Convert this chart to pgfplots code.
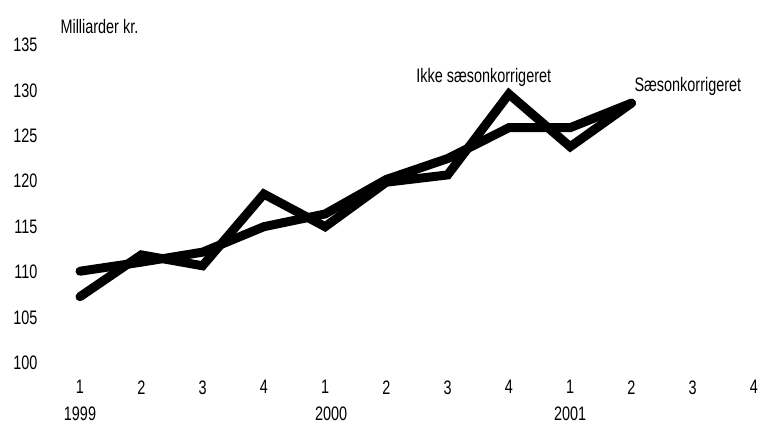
\documentclass[border=0pt]{standalone}
\usepackage{fontspec}
\setmainfont{Liberation Sans}[FakeStretch=0.74]
\usepackage{pgfplots}
\pgfplotsset{compat=1.18}
\begin{document}
\begin{tikzpicture}[font=\fontsize{19.5}{22}\selectfont]
\useasboundingbox (0,0) rectangle (759pt,423pt);
\begin{axis}[
  at={(80pt,60pt)}, anchor=south west,
  scale only axis, width=674pt, height=318pt,
  xmin=0, xmax=11, ymin=100, ymax=135,
  clip=false,
  axis line style={draw=none},
  major tick length=0pt,
  xtick={0,...,11},
  xticklabels={1,2,3,4,1,2,3,4,1,2,3,4},
  ytick={100,105,...,135},
  xticklabel style={yshift=-14pt},
  yticklabel style={xshift=-39pt},
  /pgf/number format/assume math mode=true,
  tick label style={font=\fontsize{19.5}{22}\selectfont},
]
\addplot[black, line width=9pt, line join=miter, line cap=round] coordinates {
 (0,110.1) (1,111.1) (2,112.2) (3,115.0) (4,116.4) (5,120.2) (6,122.5) (7,125.9) (8,125.9) (9,128.6)
};
\addplot[black, line width=9pt, line join=miter, line cap=round] coordinates {
 (0,107.3) (1,111.9) (2,110.7) (3,118.6) (4,115.0) (5,119.9) (6,120.7) (7,129.6) (8,123.8) (9,128.6)
};
\node at (axis cs:6.59,131.4) {Ikke sæsonkorrigeret};
\node at (axis cs:9.92,130.4) {Sæsonkorrigeret};
\node[anchor=north, inner sep=0pt] at (axis cs:0,95.2) {1999};
\node[anchor=north, inner sep=0pt] at (axis cs:4.1,95.2) {2000};
\node[anchor=north, inner sep=0pt] at (axis cs:8,95.2) {2001};
\end{axis}
\node[anchor=west] at (57pt,396pt) {Milliarder kr.};
\end{tikzpicture}
\end{document}
